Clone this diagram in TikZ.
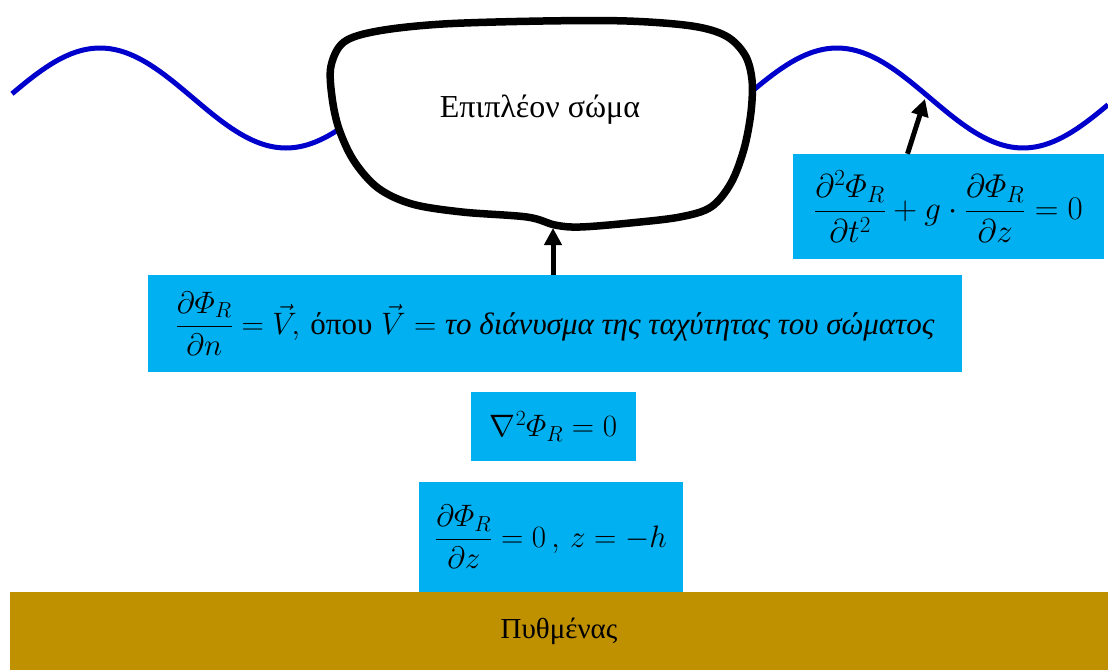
\RequirePackage{fix-cm}
\documentclass[tikz,border=0pt]{standalone}
\usepackage{amsmath}
\usepackage{fontspec}
\setmainfont{Liberation Serif}
\usetikzlibrary{arrows.meta}
\definecolor{eqcyan}{HTML}{00B0F0}
\definecolor{bedgold}{HTML}{BF9000}
\definecolor{waveblue}{HTML}{0000CC}
\tikzset{
  eq-box/.style={fill=eqcyan,inner sep=0pt,font=\fontsize{31}{37}\selectfont},
  bed-box/.style={fill=bedgold,inner sep=0pt,font=\fontsize{29}{35}\selectfont},
  wave-line/.style={draw=waveblue,line width=5pt},
  body-line/.style={draw=black,fill=white,line width=7.5pt},
  push/.style={-{Triangle[width=17pt,length=17pt]},line width=5pt,black},
}

\begin{document}
\begin{tikzpicture}[x=1pt,y=-1pt]
  \useasboundingbox (0,0) rectangle (1108,670);

  % free surface
  \draw[wave-line] plot[domain=12:345,samples=80] (\x,{98-50*cos((\x-100)/186*180)});
  \draw[wave-line] plot[domain=745:1108,samples=80] (\x,{98-50*cos((\x-837)/186*180)});

  % floating body
  \draw[body-line] plot[smooth cycle,tension=0.55] coordinates {
    (331,66) (332,97) (339,129) (354,161) (378,188) (412,204) (462,212)
    (527,217) (555,225) (580,227) (630,223) (680,217) (711,207) (731,183)
    (744,149) (751,112) (752,80) (745,55) (726,36) (692,26) (627,21)
    (543,21) (443,24) (378,31) (344,42)};
  \node[font=\fontsize{32}{38}\selectfont] (body) at (540,110) {Επιπλέον σώμα};
  \coordinate (bodytip) at (553,228);
  \coordinate (wavept) at (925,99);

  % boundary conditions
  \node[eq-box,font=\fontsize{33}{40}\selectfont,minimum width=311pt,minimum height=105pt] (surfeq) at (948.5,206.5)
    {$\dfrac{\partial^2\varPhi_R}{\partial t^2}+g\cdot\dfrac{\partial\varPhi_R}{\partial z}=0$};
  \node[eq-box,minimum width=814pt,minimum height=97pt] (bodyeq) at (555,323.5)
    {$\dfrac{\partial\varPhi_R}{\partial n}=\vec{V}\!,\,\text{όπου}\;\vec{V}=\textit{το διάνυσμα της ταχύτητας του σώματος}$};
  \node[eq-box,minimum width=165pt,minimum height=69pt] (lapeq) at (553.5,426.5)
    {$\nabla^2\varPhi_R=0$};
  \node[eq-box,minimum width=264pt,minimum height=110pt] (bedeq) at (551,537)
    {$\dfrac{\partial\varPhi_R}{\partial z}=0\,,\,z=-h$};
  \node[bed-box,minimum width=1098pt,minimum height=78pt] (bed) at (559,631) {Πυθμένας};

  \draw[push] (bodyeq.north -| bodytip) -- (bodytip);
  \draw[push] ([xshift=-41pt]surfeq.north) -- (wavept);

\end{tikzpicture}
\end{document}
